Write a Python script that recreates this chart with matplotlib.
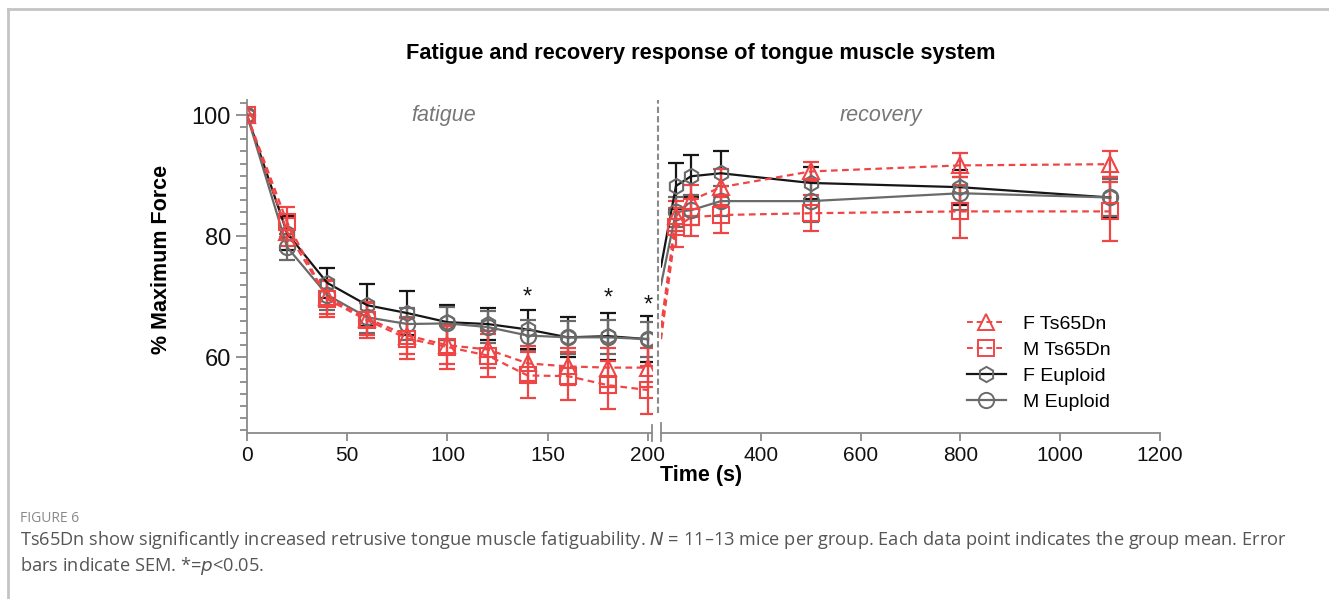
import matplotlib
matplotlib.use("Agg")
import matplotlib.pyplot as plt
from matplotlib.lines import Line2D
import numpy as np

plt.rcParams['font.family'] = ['Liberation Sans', 'DejaVu Sans']

# fatigue phase (s)
t_fat = [0, 20, 40, 60, 80, 100, 120, 140, 160, 180, 200]
f_ts_fat = [100, 80.7, 69.9, 66.4, 63.6, 62.0, 61.3, 59.0, 58.5, 58.3, 58.3]
m_ts_fat = [100, 82.3, 69.6, 66.1, 63.1, 61.7, 60.3, 57.0, 56.9, 55.4, 54.6]
f_eu_fat = [100, 80.5, 72.3, 68.6, 67.3, 65.8, 65.5, 64.6, 63.3, 63.5, 63.0]
m_eu_fat = [100, 78.2, 70.3, 66.6, 65.5, 65.6, 65.0, 63.6, 63.3, 63.3, 63.0]
f_ts_fat_err = [0, 2.3, 2.8, 2.7, 3.0, 3.1, 3.0, 2.9, 3.0, 3.2, 3.2]
m_ts_fat_err = [0, 2.5, 3.0, 2.9, 3.4, 3.6, 3.6, 3.8, 4.0, 4.0, 4.0]
f_eu_fat_err = [0, 2.8, 2.5, 3.5, 3.6, 2.9, 2.6, 3.2, 3.3, 3.9, 3.8]
m_eu_fat_err = [0, 2.2, 2.5, 2.6, 2.6, 2.7, 2.7, 2.5, 2.7, 2.8, 2.9]

# recovery phase (s)
t_rec = [230, 260, 320, 500, 800, 1100]
f_ts_rec = [83.3, 85.9, 88.1, 90.7, 91.7, 91.9]
m_ts_rec = [81.5, 83.1, 83.5, 83.8, 84.1, 84.1]
f_eu_rec = [88.3, 89.9, 90.4, 88.8, 88.1, 86.4]
m_eu_rec = [84.0, 84.3, 85.8, 85.8, 87.1, 86.4]
f_ts_rec_err = [2.5, 2.5, 3.0, 1.6, 2.0, 2.2]
m_ts_rec_err = [3.2, 3.0, 2.9, 3.0, 4.4, 4.9]
f_eu_rec_err = [3.8, 3.5, 3.6, 2.6, 2.9, 3.4]
m_eu_rec_err = [2.5, 2.5, 2.5, 3.5, 2.7, 3.0]
# value where each recovery line enters the right panel (t = 200)
rec_start = {'f_ts': 65.0, 'm_ts': 63.0, 'f_eu': 75.0, 'm_eu': 72.0}

star_t = [140, 180, 200]
star_y = [69.9, 69.7, 68.6]

RED = '#f04545'
BLK = '#161616'
GRY = '#6a6a6a'
AX = '#8a8a8a'

series = [
    # key, label, color, line color, marker, linestyle, marker edge
    ('f_eu', 'F Euploid', BLK, BLK, 'h', '-', GRY),
    ('m_eu', 'M Euploid', GRY, GRY, 'o', '-', GRY),
    ('f_ts', 'F Ts65Dn', RED, RED, '^', (0, (3, 2)), RED),
    ('m_ts', 'M Ts65Dn', RED, RED, 's', (0, (3, 2)), RED),
]
fat = {'f_ts': (f_ts_fat, f_ts_fat_err), 'm_ts': (m_ts_fat, m_ts_fat_err),
       'f_eu': (f_eu_fat, f_eu_fat_err), 'm_eu': (m_eu_fat, m_eu_fat_err)}
rec = {'f_ts': (f_ts_rec, f_ts_rec_err), 'm_ts': (m_ts_rec, m_ts_rec_err),
       'f_eu': (f_eu_rec, f_eu_rec_err), 'm_eu': (m_eu_rec, m_eu_rec_err)}

W, H = 1329, 599
fig = plt.figure(figsize=(W / 100, H / 100), dpi=100)
ax1 = fig.add_axes([247 / W, 1 - 433 / H, 405 / W, 333 / H])
ax2 = fig.add_axes([661 / W, 1 - 433 / H, 499 / W, 333 / H])

ms = 11
for key, lab, ec, lc, mk, ls, mec in series:
    y, e = fat[key]
    ax1.errorbar(t_fat, y, yerr=e, fmt='none', ecolor=ec, elinewidth=1.6,
                 capsize=6, capthick=1.6, zorder=2)
    ax1.plot(t_fat, y, color=lc, ls=ls, lw=1.6, marker=mk, ms=ms, mfc='none',
             mec=mec, mew=1.5, zorder=3)
    y, e = rec[key]
    ax2.plot([200] + t_rec, [rec_start[key]] + y, color=lc, ls=ls,
             lw=1.6, zorder=3)
    ax2.errorbar(t_rec, y, yerr=e, fmt='none', ecolor=ec, elinewidth=1.6,
                 capsize=6, capthick=1.6, zorder=2)
    ax2.plot(t_rec, y, ls='none', marker=mk, ms=ms, mfc='none', mec=mec,
             mew=1.5, zorder=4)

for t, y in zip(star_t, star_y):
    ax1.text(t, y, '*', ha='center', va='center', fontsize=17, color=BLK)

ax1.set_xlim(0, 202)
ax2.set_xlim(200, 1200)
for ax in (ax1, ax2):
    ax.set_ylim(47.5, 102.5)
    ax.spines['top'].set_visible(False)
    ax.spines['right'].set_visible(False)
    ax.spines['bottom'].set_color(AX)
    ax.spines['left'].set_color(AX)
    ax.spines['bottom'].set_linewidth(1.3)
    ax.spines['left'].set_linewidth(1.3)
    ax.tick_params(axis='x', colors=AX, labelcolor='#111', labelsize=15,
                   length=6, width=1.3)

ax1.set_xticks([0, 50, 100, 150, 200])
ax2.set_xticks([400, 600, 800, 1000, 1200])
ax1.set_yticks([60, 80, 100])
ax1.set_yticks(np.arange(48, 103, 2), minor=True)
ax1.tick_params(axis='y', which='major', colors=AX, labelcolor='#111',
                labelsize=17, length=8, width=1.3)
ax1.tick_params(axis='y', which='minor', colors=AX, length=5, width=1.3)
ax2.spines['left'].set_visible(False)
ax2.tick_params(axis='y', left=False, labelleft=False)

# axis-break marks
ax1.plot([1, 1], [-0.025, 0.025], transform=ax1.transAxes, color=AX, lw=1.3,
         clip_on=False)
ax2.plot([0, 0], [-0.025, 0.03], transform=ax2.transAxes, color=AX, lw=1.3,
         clip_on=False)
# phase separator
fig.add_artist(Line2D([657.5 / W, 657.5 / W], [1 - 413 / H, 1 - 100 / H],
                      color=AX, lw=1.5, ls=(0, (3, 1.5))))

ax1.text(0.485, 0.952, 'fatigue', transform=ax1.transAxes, ha='center',
         va='center', style='italic', fontsize=15.5, color='#777')
ax2.text(0.44, 0.952, 'recovery', transform=ax2.transAxes, ha='center',
         va='center', style='italic', fontsize=15.5, color='#777')

ax1.set_ylabel('% Maximum Force', fontsize=15.5, fontweight='bold')
ax1.yaxis.set_label_coords(-0.185, 0.52)
fig.text(701 / W, 1 - 476 / H, 'Time (s)', ha='center', va='center',
         fontsize=15.5, fontweight='bold')
fig.text(701 / W, 1 - 54 / H, 'Fatigue and recovery response of tongue muscle system',
         ha='center', va='center', fontsize=15.7, fontweight='bold')

handles = [
    Line2D([], [], color=RED, ls=(0, (3, 2)), lw=1.4, marker='^', ms=11,
           mfc='none', mec=RED, mew=1.4),
    Line2D([], [], color=RED, ls=(0, (3, 2)), lw=1.4, marker='s', ms=11,
           mfc='none', mec=RED, mew=1.4),
    Line2D([], [], color=BLK, lw=1.6, marker='h', ms=11, mfc='none',
           mec=GRY, mew=1.4),
    Line2D([], [], color=GRY, lw=1.6, marker='o', ms=11, mfc='none',
           mec=GRY, mew=1.4),
]
ax2.legend(handles, ['F Ts65Dn', 'M Ts65Dn', 'F Euploid', 'M Euploid'],
           loc='upper left', bbox_to_anchor=(0.578, 0.405), frameon=False,
           fontsize=14, handlelength=2.0, labelspacing=0.42, handletextpad=0.9)

# page frame and caption
fig.add_artist(Line2D([8 / W, 1], [1 - 9 / H, 1 - 9 / H], color='#c4c4c4', lw=2))
fig.add_artist(Line2D([8 / W, 8 / W], [0, 1 - 9 / H], color='#c4c4c4', lw=2))
fig.text(20 / W, 1 - 518 / H, 'FIGURE 6', fontsize=10, color='#888',
         family=['Open Sans', 'DejaVu Sans'], va='center')
fig.text(20 / W, 1 - 540 / H,
         'Ts65Dn show significantly increased retrusive tongue muscle fatiguability. '
         '$\\it{N}$ = 11\u201313 mice per group. Each data point indicates the group mean. Error',
         fontsize=13.15, color='#555', family=['Open Sans', 'DejaVu Sans'], va='center')
fig.text(20 / W, 1 - 566 / H, 'bars indicate SEM. *=$\\it{p}$<0.05.',
         fontsize=13.15, color='#555', family=['Open Sans', 'DejaVu Sans'], va='center')

fig.savefig('out.png', dpi=100)
